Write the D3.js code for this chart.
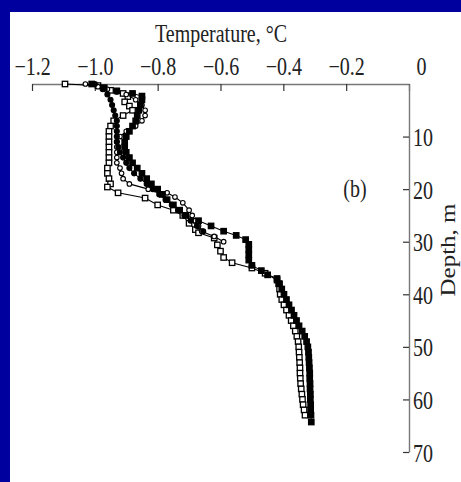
<!DOCTYPE html>
<html>
<head>
<meta charset="utf-8">
<script src="https://cdn.jsdelivr.net/npm/d3@7"></script>
<style>
  html, body { margin: 0; padding: 0; background: #fff; }
  svg { display: block; }
  text { font-family: "Liberation Serif", "DejaVu Serif", serif; }
</style>
</head>
<body>
<svg id="chart" width="461" height="482"></svg>
<script>
// ---- Data ----
const xTicks = [-1.2, -1.0, -0.8, -0.6, -0.4, -0.2, 0];
const xTickLabels = ["\u22121.2", "\u22121.0", "\u22120.8", "\u22120.6", "\u22120.4", "\u22120.2", "0"];
const yTicks = [10, 20, 30, 40, 50, 60, 70];
const xTitle = "Temperature, \u00B0C";
const yTitle = "Depth, m";
const panelLabel = "(b)";

// Series 1: filled squares
const filledSqDepth = [0, 0.7, 1.3, 1.8, 2.3, 3, 4, 5, 6, 7, 8, 9, 10, 11, 12, 13, 14, 15, 16, 17, 18, 19, 20, 21, 22, 23, 24, 25, 26, 27, 28,
  28.8, 29.6, 30.5, 31.5, 32.5, 33.5, 34.5, 35.5, 36.3, 37,
  38, 39, 40, 41, 42, 43, 44, 45, 46, 47, 48, 49, 50, 51, 52, 53, 54, 55, 56, 57, 58, 59, 60, 61, 62, 63, 64.3];
const filledSqTemp = [-1.01, -0.97, -0.93, -0.88, -0.85,
  -0.85, -0.855, -0.86, -0.865, -0.87, -0.88, -0.89, -0.90, -0.905, -0.905, -0.90, -0.89, -0.88, -0.865, -0.85, -0.835, -0.82, -0.80, -0.785, -0.77, -0.75, -0.73, -0.71, -0.67, -0.63, -0.59,
  -0.55, -0.52, -0.51, -0.51, -0.51, -0.51, -0.50, -0.47, -0.45, -0.42,
  -0.415, -0.405, -0.398, -0.39, -0.382, -0.374, -0.366, -0.358, -0.35, -0.34, -0.332, -0.326, -0.322,
  -0.32, -0.319, -0.318, -0.317, -0.316, -0.316, -0.315, -0.315, -0.314, -0.314, -0.313, -0.313, -0.312, -0.311];

// Series 2: filled dots
const filledDotDepth = [0, 1, 2, 3, 4, 5, 6, 7, 8, 9, 10, 11, 12, 13, 14, 15, 16, 17, 18, 19, 20, 21, 22, 23, 24, 25, 26, 27, 28];
const filledDotTemp = [-1.0, -0.975, -0.96, -0.95, -0.945, -0.94, -0.935, -0.93, -0.93, -0.93, -0.93, -0.93, -0.925, -0.92, -0.91, -0.90, -0.89, -0.875, -0.855, -0.835, -0.815, -0.795, -0.775, -0.755, -0.735, -0.715, -0.695, -0.675, -0.655];

// Series 3: open circles
const openCircDepth = [0, 0.5, 1, 1.5, 2, 3, 4, 5, 6, 7, 8, 9, 10, 11, 12, 13, 14, 15, 16, 17, 18, 19, 20, 20.7, 21.5, 22.6, 24, 25, 26, 27, 28, 29, 30];
const openCircTemp = [-1.03, -0.99, -0.96, -0.93, -0.90,
  -0.87, -0.85, -0.84, -0.84, -0.85, -0.87, -0.90, -0.92, -0.93, -0.93, -0.93, -0.93, -0.93, -0.92, -0.915, -0.91, -0.89, -0.83,
  -0.77, -0.745, -0.72, -0.70, -0.69, -0.68, -0.67, -0.66, -0.62, -0.59];

// Series 4: open squares
const openSqDepth = [0, 0.3, 1.2, 1.8, 2.4, 3.4, 4.2, 5, 6, 7, 8, 9, 10, 11, 12, 13, 14, 15, 16, 17, 18, 19,
  19.6, 20.7, 21.7, 23, 24, 25, 26.5, 27.7, 28.3, 29.3, 30.6, 31.8, 33, 34, 35, 36, 37.3,
  38, 39, 40, 41, 42, 43, 44, 45, 46, 47, 48, 49, 50, 51, 52, 53, 54, 55, 56, 57, 58, 59, 60, 61, 62, 63];
const openSqTemp = [-1.095, -0.99, -0.95, -0.91, -0.895, -0.905, -0.89,
  -0.88, -0.91, -0.94, -0.95, -0.955, -0.955, -0.955, -0.955, -0.955, -0.955, -0.955, -0.96, -0.96, -0.955, -0.95,
  -0.96, -0.926, -0.84, -0.80, -0.75, -0.72, -0.70, -0.68, -0.67, -0.62, -0.61, -0.60, -0.59, -0.563, -0.50, -0.458, -0.42,
  -0.412, -0.412, -0.41, -0.405, -0.398, -0.39, -0.382, -0.375, -0.368, -0.362, -0.357, -0.353, -0.351, -0.35, -0.349, -0.348, -0.347, -0.347, -0.346, -0.345, -0.343, -0.341, -0.339, -0.337, -0.334, -0.331];

// ---- Drawing ----
const svg = d3.select("#chart");
const W = 461, H = 482;

svg.append("rect").attr("x", 0).attr("y", 0).attr("width", W).attr("height", H).attr("fill", "#00009E");
svg.append("rect").attr("x", 10).attr("y", 12).attr("width", W - 10).attr("height", H - 12).attr("fill", "#fff");

const x = d3.scaleLinear().domain([-1.2, 0]).range([32, 409]);
const y = d3.scaleLinear().domain([0, 70]).range([84, 452]);

const SX = 0.8; // horizontal compression of the reference's type
const FS = 25;

// Top axis
const gx = svg.append("g").attr("transform", `translate(0,${y(0)})`)
  .call(d3.axisTop(x).tickValues(xTicks).tickFormat((d, i) => xTickLabels[i])
    .tickSizeInner(-7).tickSizeOuter(0).tickPadding(9));
gx.select(".domain").attr("stroke", "#777").attr("stroke-width", 1.4);
gx.selectAll(".tick line").attr("stroke", "#333").attr("stroke-width", 1.2);
gx.selectAll(".tick text")
  .attr("font-size", FS).attr("fill", "#222")
  .attr("font-family", "Liberation Serif, serif")
  .each(function(d) {
    const t = d3.select(this);
    const yy = +t.attr("y");
    const dx = d === 0 ? 12 : 0;
    t.attr("y", null).attr("transform", `translate(${dx},${yy}) scale(${SX},1)`);
  });

// Right axis
const gy = svg.append("g").attr("transform", `translate(${x(0)},0)`)
  .call(d3.axisRight(y).tickValues(yTicks)
    .tickSizeInner(-6).tickSizeOuter(0).tickPadding(4));
gy.select(".domain").attr("stroke", "#777").attr("stroke-width", 1.4);
gy.selectAll(".tick line").attr("stroke", "#333").attr("stroke-width", 1.2);
gy.selectAll(".tick text")
  .attr("font-size", FS).attr("fill", "#222")
  .attr("font-family", "Liberation Serif, serif")
  .each(function() {
    const t = d3.select(this);
    const xx = +t.attr("x");
    t.attr("x", null).attr("dy", "0.36em").attr("transform", `translate(${xx},0) scale(${SX},1)`);
  });

// Titles
svg.append("text").text(xTitle)
  .attr("text-anchor", "middle").attr("font-size", FS).attr("fill", "#222")
  .attr("transform", `translate(221,42) scale(${SX},1)`);

svg.append("text").text(yTitle)
  .attr("text-anchor", "middle").attr("font-size", FS).attr("fill", "#222")
  .attr("transform", `translate(455,250) scale(${SX},1) rotate(-90)`);

svg.append("text").text(panelLabel)
  .attr("text-anchor", "middle").attr("font-size", FS).attr("fill", "#222")
  .attr("transform", `translate(355,197) scale(${SX},1)`);

// Series
function pts(depths, temps) { return depths.map((d, i) => ({ d, t: temps[i] })); }
const line = d3.line().x(p => x(p.t)).y(p => y(p.d));

const series = [
  { data: pts(openSqDepth, openSqTemp), kind: "openSq" },
  { data: pts(openCircDepth, openCircTemp), kind: "openCirc" },
  { data: pts(filledDotDepth, filledDotTemp), kind: "filledDot" },
  { data: pts(filledSqDepth, filledSqTemp), kind: "filledSq" }
];

const plot = svg.append("g");
series.forEach(s => {
  plot.append("path").datum(s.data).attr("d", line)
    .attr("fill", "none").attr("stroke", "#000").attr("stroke-width", 1.1);
});
series.forEach(s => {
  const g = plot.append("g");
  const sz = 5.4;
  if (s.kind === "openSq" || s.kind === "filledSq") {
    g.selectAll("rect").data(s.data).join("rect")
      .attr("x", p => x(p.t) - sz / 2).attr("y", p => y(p.d) - sz / 2)
      .attr("width", sz).attr("height", sz)
      .attr("fill", s.kind === "openSq" ? "#fff" : "#000")
      .attr("stroke", "#000").attr("stroke-width", 1.3);
  } else {
    g.selectAll("circle").data(s.data).join("circle")
      .attr("cx", p => x(p.t)).attr("cy", p => y(p.d))
      .attr("r", s.kind === "openCirc" ? 2.3 : 2.5)
      .attr("fill", s.kind === "openCirc" ? "#fff" : "#000")
      .attr("stroke", "#000").attr("stroke-width", 1.1);
  }
});
</script>
</body>
</html>
